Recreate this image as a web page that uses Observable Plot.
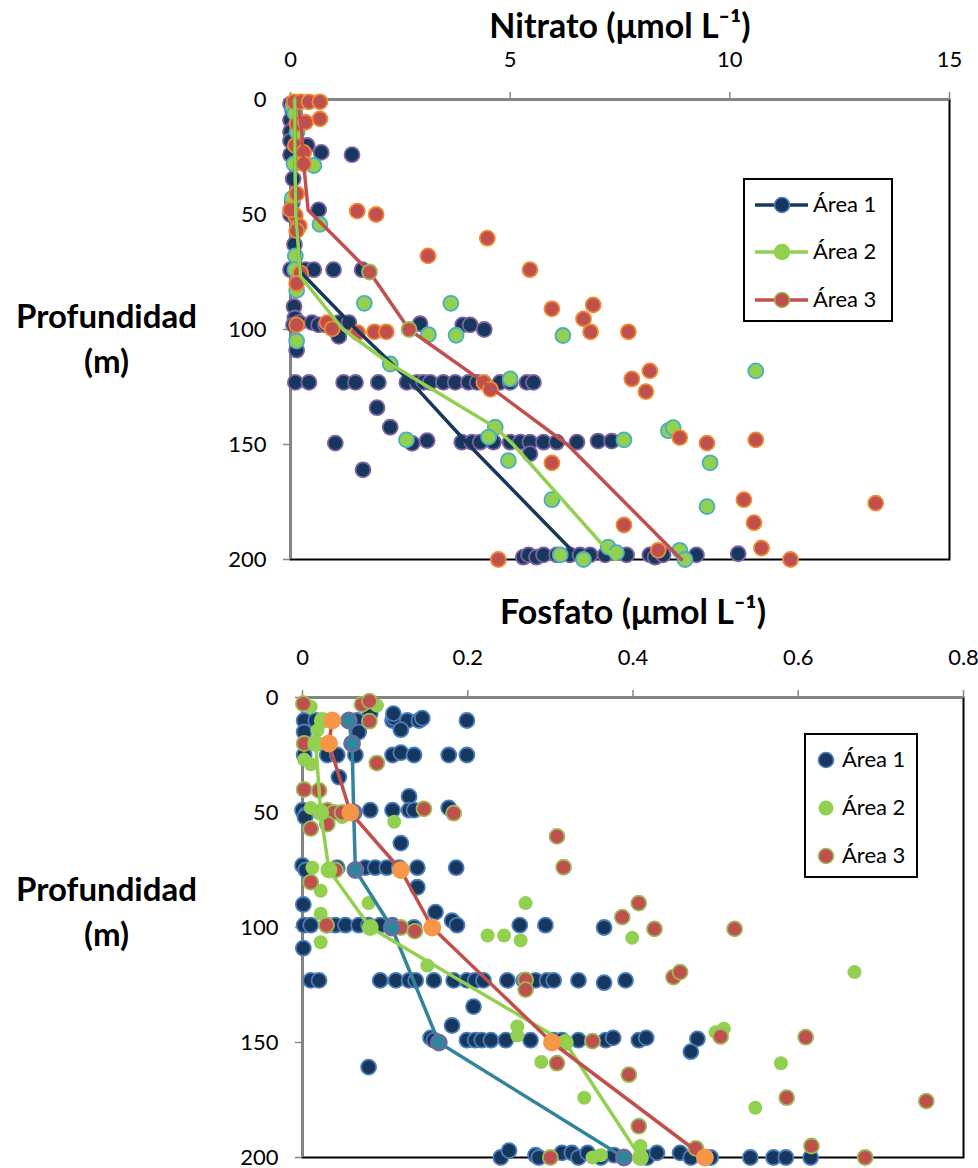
<!DOCTYPE html>
<html>
<head>
<meta charset="utf-8">
<script src="https://cdn.jsdelivr.net/npm/d3@7"></script>
<script src="https://cdn.jsdelivr.net/npm/@observablehq/plot@0.6"></script>
<style>
  body { margin: 0; background: #fff; font-family: Lato, "Open Sans", sans-serif; }
  .panel { position: relative; width: 978px; }
  .legend { position: absolute; border: 2px solid #000; background: #fff; box-sizing: border-box; }
  .legend .sym { position: absolute; overflow: visible; }
  .legend .lab { position: absolute; font-size: 22px; line-height: 22px; color: #000; white-space: nowrap; font-family: Lato, sans-serif; }
</style>
</head>
<body>
<div id="root"></div>
<script>
// ---------- Labels ----------
const areaNames = ["Área 1", "Área 2", "Área 3"];
const nitTitle = "Nitrato (μmol L⁻¹)";
const fosTitle = "Fosfato (μmol L⁻¹)";
const yTitle = "Profundidad\n(m)";
const nitTicks = [0, 5, 10, 15];
const fosTicks = [0, 0.2, 0.4, 0.6, 0.8];
const depthTicks = [0, 50, 100, 150, 200];

// ---------- Nitrato: scatter [value, depth] ----------
const nitArea1 = [
  [0.0,2],[0.05,5],[0.0,9],[0.1,12],[0.0,14],[0.0,18],[0.38,20],[0.70,23],[1.4,24],[0.0,24],
  [0.06,34.5],[0.04,45],[0.64,48],[0.0,50],[0.09,63],
  [0.0,74],[0.34,74],[0.53,74],[0.98,74],[1.63,74],
  [0.08,90],[0.1,95],
  [0.07,98],[0.2,97],[0.49,97],[0.64,98],[0.8,98],[0.95,98],[1.1,97],[1.33,97],[1.1,103],
  [2.95,97.5],[3.92,98],[4.09,98],[4.41,100],[0.14,109],
  [0.11,123],[0.42,123],[1.21,123],[1.48,123],[2.0,123],[2.65,123],[2.88,123],[3.03,123],[3.18,123],
  [3.48,123],[3.75,123],[4.05,123],[4.25,123],[4.77,123],[5.0,123],[5.38,123],[5.53,123],
  [1.97,134],[2.27,142.5],[1.02,149.4],[2.77,149.5],[3.11,148.3],[1.65,161],
  [3.9,149],[4.13,149],[4.32,149],[4.62,149],[5.0,149],[5.23,149],[5.45,149],[5.76,149],
  [6.06,149],[6.52,149],[7.0,148.5],[7.31,148.5],[5.45,154],
  [5.3,199],[5.42,198],[5.6,199],[5.76,198],[6.06,198],[6.36,198],[6.59,198],[6.82,198],
  [7.16,198],[7.65,198],[8.18,198],[8.3,199],[8.48,198],[9.24,198],[10.19,197.5]
];
const nitArea2 = [
  [0.05,3],[0.1,6],[0.15,14],[0.08,28],[0.53,28.7],[0.04,43],[0.67,54.3],[0.11,68],[0.1,74],
  [0.14,83],[1.68,88.6],[3.65,88.6],[3.14,102.2],[3.77,102.5],[6.2,102.6],[0.14,105],
  [2.27,115],[5.0,121.5],[10.59,118],[4.66,142.5],[4.51,146.8],[2.64,148],[4.96,157],[5.95,174],
  [7.59,148],[8.6,144],[8.71,142.7],[9.55,158],[9.48,177],
  [6.14,198],[6.67,200],[7.23,194.6],[7.42,197],[8.86,196],[8.98,200]
];
const nitArea3 = [
  [0.08,1],[0.23,1],[0.42,1],[0.67,1],[0.67,8.4],[0.15,10.6],[0.34,9.9],[0.11,20],[0.3,23],[0.3,28],
  [0.14,41],[1.52,48.5],[1.95,50],[0.11,50.4],[0.0,48],[0.2,55],[0.14,57],[4.48,60.3],[3.13,68],
  [0.23,75.5],[5.45,74],[0.14,80],[5.95,91],[6.89,89.3],[6.67,95.4],
  [0.14,98],[0.83,97],[0.95,99.7],[1.53,101.4],[1.91,101],[2.18,101],[6.83,101],[7.69,101],
  [4.4,123],[4.55,126],[7.77,121.5],[8.18,118],[8.09,127],
  [8.86,147],[9.48,149.4],[10.59,148],[5.95,158],[10.32,174],[10.55,184],[13.32,175.5],[7.59,185],
  [8.37,196],[10.72,195],[11.38,200],[4.73,200]
];
// Nitrato: mean profiles [value, depth]
const nitLine1 = [[0.1,0],[0.1,10],[0.1,25],[0.12,50],[0.23,75],[1.5,100],[2.75,123],[4.05,150],[6.4,196]];
const nitLine2 = [[0.1,0],[0.1,10],[0.1,25],[0.12,50],[0.23,77],[1.2,100],[2.27,115],[4.66,142.5],[5.07,150],[7.4,200]];
const nitLine3 = [[0.2,5],[0.25,12],[0.3,28],[0.4,48],[1.8,75],[2.7,100],[4.4,123],[6.3,150],[8.9,200]];

// ---------- Fosfato: scatter [value, depth] ----------
const fosArea1 = [
  [0.002,10],[0.016,10],[0.066,10],[0.082,7],[0.109,10],[0.111,9],[0.127,10],[0.141,10],[0.145,9],[0.199,10],
  [0.11,7],[0.002,15],[0.068,15],[0.119,14],
  [0.002,25],[0.03,25],[0.042,25],[0.064,25],[0.109,25],[0.119,24],[0.135,25],[0.177,25],[0.199,25],
  [0.044,34.6],[0.129,43],
  [0.0,49],[0.004,51],[0.082,49],[0.109,49],[0.129,49],[0.135,49],[0.177,48],[0.003,52],
  [0.119,63.3],
  [0.0,73],[0.004,75],[0.042,74],[0.076,74],[0.088,74],[0.102,74],[0.117,74],[0.139,74],[0.186,74],
  [0.139,82.5],[0.001,90],[0.161,93.3],
  [0.002,99],[0.01,99],[0.03,99],[0.04,99],[0.052,99],[0.068,99],[0.08,99],[0.094,99],[0.109,99],
  [0.135,100],[0.181,97],[0.187,99],[0.263,99],[0.294,99],[0.365,100],
  [0.001,109],
  [0.01,123],[0.02,123],[0.094,123],[0.113,123],[0.129,123],[0.137,123],[0.159,123],[0.183,123],
  [0.199,123],[0.209,123],[0.219,123],[0.248,123],[0.268,123],[0.282,123],[0.296,123],[0.304,123],
  [0.334,123],[0.365,124],[0.391,123],
  [0.207,134.4],[0.181,142.6],[0.08,160.7],
  [0.155,148],[0.159,149],[0.199,149],[0.209,149],[0.217,149],[0.228,149],[0.246,149],[0.276,149],
  [0.304,149],[0.314,149],[0.334,149],[0.367,149],[0.376,148],[0.407,149],[0.416,148],[0.478,148.4],[0.47,154],
  [0.24,200],[0.25,197],[0.282,199],[0.286,200],[0.314,198],[0.326,198],[0.334,200],[0.345,198],
  [0.361,200],[0.377,199],[0.417,200],[0.429,198],[0.457,198],[0.47,200],[0.494,200],[0.542,200],
  [0.57,200],[0.585,200],[0.615,200]
];
const fosArea2 = [
  [0.01,4],[0.09,3.5],[0.024,10],[0.018,14.3],[0.016,20],[0.002,27],[0.01,29],[0.01,48],[0.022,49],
  [0.048,52],[0.111,54],[0.012,74],[0.022,84],[0.08,89.4],[0.27,89.4],[0.022,94],[0.022,106.4],
  [0.224,103.5],[0.244,103.5],[0.264,105.6],[0.399,104.5],[0.151,116.5],[0.668,119.4],
  [0.26,143],[0.26,147],[0.5,145.5],[0.51,144],[0.289,158.5],[0.579,159],[0.341,174],[0.548,178.4],
  [0.351,200],[0.361,199],[0.409,195]
];
const fosArea3 = [
  [0.001,2.7],[0.072,3],[0.081,1.6],[0.081,10.3],[0.002,20],[0.09,28.5],[0.002,40],[0.02,40.4],
  [0.03,49],[0.038,50],[0.048,50],[0.147,48.4],[0.183,50.3],[0.01,57],[0.03,55],[0.308,60.4],
  [0.04,75],[0.316,73.8],[0.01,80.3],[0.029,99],[0.119,100],[0.136,101.6],[0.387,95.5],[0.407,89.4],
  [0.426,100.6],[0.523,100.6],[0.27,122.8],[0.27,127],[0.449,121.6],[0.457,119.4],
  [0.351,149.4],[0.506,147.4],[0.609,147.7],[0.308,159],[0.395,164],[0.586,174],[0.755,175.5],
  [0.407,186.4],[0.476,196],[0.616,195],[0.681,200],[0.30,200]
];
// Fosfato: mean profiles [value, depth]
const fosLine1 = [[0.056,10],[0.06,20],[0.062,50],[0.064,75],[0.108,100],[0.165,150],[0.389,200]];
const fosLine2 = [[0.024,10],[0.016,20],[0.022,50],[0.032,75],[0.082,100],[0.318,150],[0.409,200]];
const fosLine3 = [[0.036,10],[0.032,20],[0.058,50],[0.119,75],[0.157,100],[0.302,150],[0.487,200]];

// ---------- Styles ----------
const C = {
  navy: "#17375E", purple: "#7F63A1", blue: "#4A7EBB",
  green: "#92D050", teal: "#4BACC6", tealLine: "#31849B",
  red: "#C0504D", orange: "#F08A32", olive: "#9BBB59", lineOrange: "#F79646",
  axis: "#868686"
};
const X = d => d[0], Y = d => d[1];
const fmt = d3.format("~g");

function axesMarks(ticks, title, yTitleDx, yTitleDy, titleDy) {
  return [
    Plot.frame({stroke: "#000", strokeWidth: 2}),
    Plot.ruleY([0], {stroke: C.axis, strokeWidth: 2}),
    Plot.ruleX([0], {stroke: C.axis, strokeWidth: 2}),
    Plot.axisX({anchor: "top", ticks, tickFormat: fmt, tickSize: 8, tickPadding: 25, stroke: C.axis, fill: "#000",
      fontSize: 22, label: null, strokeWidth: 1.5}),
    Plot.axisY({anchor: "left", ticks: depthTicks, tickFormat: fmt, tickSize: 7, tickPadding: 17, stroke: C.axis, fill: "#000",
      fontSize: 22, label: null, strokeWidth: 1.5}),
    Plot.text([title], {frameAnchor: "top", dy: titleDy, lineAnchor: "bottom", fontSize: 34,
      fontWeight: "bold", fill: "#000"}),
    Plot.text([yTitle], {frameAnchor: "left", dx: yTitleDx, dy: yTitleDy, textAnchor: "middle",
      lineAnchor: "middle", lineHeight: 1.36, fontSize: 33, fontWeight: "bold", fill: "#000"})
  ];
}

function addLegend(panel, box, entries) {
  const lg = d3.select(panel).append("div").attr("class", "legend")
    .style("left", box.left + "px").style("top", box.top + "px")
    .style("width", box.width + "px").style("height", box.height + "px");
  entries.forEach((e, i) => {
    const cy = box.rows[i];
    const s = lg.append("svg").attr("class", "sym")
      .style("left", "0px").style("top", (cy - 12) + "px")
      .attr("width", box.textLeft).attr("height", 24);
    if (e.line) s.append("line").attr("x1", box.lineX1).attr("x2", box.lineX2).attr("y1", 12).attr("y2", 12)
      .attr("stroke", e.line).attr("stroke-width", 3.5);
    s.append("circle").attr("cx", box.symX).attr("cy", 12).attr("r", e.r || 7.5)
      .attr("fill", e.fill).attr("stroke", e.stroke || "none").attr("stroke-width", 1.6);
    lg.append("div").attr("class", "lab").style("left", box.textLeft + "px").style("top", (cy - 12) + "px")
      .text(e.name);
  });
}

const root = document.getElementById("root");

// ---------- Panel 1: Nitrato ----------
const p1 = document.createElement("div"); p1.className = "panel"; root.appendChild(p1);
const plot1 = Plot.plot({
  width: 978, height: 580,
  marginTop: 99, marginBottom: 21, marginLeft: 290, marginRight: 29,
  style: {fontFamily: "Lato, sans-serif", background: "white", overflow: "visible"},
  x: {domain: [0, 15], axis: null},
  y: {domain: [0, 200], reverse: true, axis: null},
  marks: [
    ...axesMarks(nitTicks, nitTitle, -184, 7, -62),
    Plot.dot(nitArea1, {x: X, y: Y, r: 7.5, fill: C.navy, stroke: C.purple, strokeWidth: 1.8}),
    Plot.dot(nitArea2, {x: X, y: Y, r: 7.5, fill: C.green, stroke: C.teal, strokeWidth: 1.8}),
    Plot.dot(nitArea3, {x: X, y: Y, r: 7.5, fill: C.red, stroke: C.orange, strokeWidth: 1.8}),
    Plot.line(nitLine1, {x: X, y: Y, stroke: C.navy, strokeWidth: 3.5}),
    Plot.line(nitLine2, {x: X, y: Y, stroke: C.green, strokeWidth: 3.5}),
    Plot.line(nitLine3, {x: X, y: Y, stroke: C.red, strokeWidth: 3.5}),
    Plot.dot(nitLine3.slice(4, 6), {x: X, y: Y, r: 7.5, fill: C.red, stroke: C.olive, strokeWidth: 1.8})
  ]
});
p1.appendChild(plot1);
addLegend(p1, {left: 743, top: 178, width: 150, height: 144, rows: [25, 72, 120],
  lineX1: 10, lineX2: 63, symX: 37, textLeft: 68}, [
  {name: areaNames[0], line: C.navy, fill: C.navy, stroke: C.blue},
  {name: areaNames[1], line: C.green, fill: C.green, stroke: C.green},
  {name: areaNames[2], line: C.red, fill: C.red, stroke: C.olive}
]);

// ---------- Panel 2: Fosfato ----------
const p2 = document.createElement("div"); p2.className = "panel"; root.appendChild(p2);
const plot2 = Plot.plot({
  width: 978, height: 588,
  marginTop: 117, marginBottom: 11, marginLeft: 302, marginRight: 15,
  style: {fontFamily: "Lato, sans-serif", background: "white", overflow: "visible"},
  x: {domain: [0, 0.8], axis: null},
  y: {domain: [0, 200], reverse: true, axis: null},
  marks: [
    ...axesMarks(fosTicks, fosTitle, -196, -18, -74),
    Plot.dot(fosArea1, {x: X, y: Y, r: 7.5, fill: C.navy, stroke: C.blue, strokeWidth: 1.8}),
    Plot.dot(fosArea2, {x: X, y: Y, r: 7, fill: C.green}),
    Plot.dot(fosArea3, {x: X, y: Y, r: 7.5, fill: C.red, stroke: C.olive, strokeWidth: 1.8}),
    Plot.line(fosLine1, {x: X, y: Y, stroke: C.tealLine, strokeWidth: 3.5}),
    Plot.dot(fosLine1, {x: X, y: Y, r: 8, fill: C.tealLine, stroke: C.purple, strokeWidth: 1.8}),
    Plot.line(fosLine2, {x: X, y: Y, stroke: C.green, strokeWidth: 3.5}),
    Plot.dot(fosLine2, {x: X, y: Y, r: 8.5, fill: C.green}),
    Plot.line(fosLine3, {x: X, y: Y, stroke: C.red, strokeWidth: 3.5}),
    Plot.dot(fosLine3, {x: X, y: Y, r: 9, fill: C.lineOrange})
  ]
});
p2.appendChild(plot2);
addLegend(p2, {left: 804, top: 153, width: 114, height: 145, rows: [25, 73, 121],
  symX: 20, textLeft: 36}, [
  {name: areaNames[0], fill: C.navy, stroke: C.blue},
  {name: areaNames[1], fill: C.green},
  {name: areaNames[2], fill: C.red, stroke: C.olive}
]);
</script>
</body>
</html>
